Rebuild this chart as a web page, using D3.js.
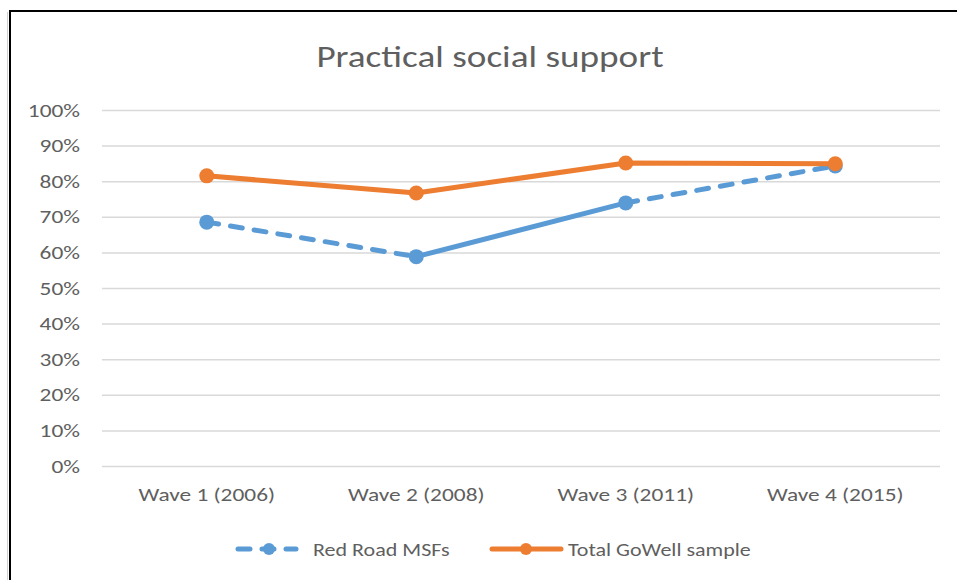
<!DOCTYPE html>
<html lang="en">
<head>
<meta charset="UTF-8">
<title>Practical social support</title>
<style>
  body { margin: 0; background: #fff; }
  svg { display: block; }
  text { font-family: Carlito, Calibri, Lato, sans-serif; fill: #5f5f5f; }
</style>
</head>
<body>
<svg width="957" height="580"></svg>
<script src="https://d3js.org/d3.v7.min.js"></script>
<script>
// data
var waves = ["Wave 1 (2006)", "Wave 2 (2008)", "Wave 3 (2011)", "Wave 4 (2015)"];
var redRoad = [0.685, 0.588, 0.739, 0.843];
var goWell = [0.815, 0.767, 0.851, 0.849];
var yTicks = [0, 0.1, 0.2, 0.3, 0.4, 0.5, 0.6, 0.7, 0.8, 0.9, 1];

var svg = d3.select("svg");
var margin = {top: 110, right: 17, bottom: 114, left: 102};
var width = +svg.attr("width"), height = +svg.attr("height");

// the source picture is a bit wider than it is tall, so text is stretched sideways
function stretch(sel, k) {
    sel.each(function() {
        var t = d3.select(this);
        var tx = +t.attr("x") || 0;
        t.attr("x", 0).attr("transform", "translate(" + tx + ",0) scale(" + k + ",1)");
    });
}

// chart frame
svg.append("line").attr("x1", 7.5).attr("x2", 7.5).attr("y1", 12).attr("y2", height)
    .attr("stroke", "#d0d0d0").attr("stroke-width", 1);
svg.append("rect").attr("x", 10).attr("y", 11).attr("width", 980).attr("height", 600)
    .attr("fill", "none").attr("stroke", "#000").attr("stroke-width", 2);

var x = d3.scaleBand().domain(waves).range([margin.left, width - margin.right]);
var y = d3.scaleLinear().domain([0, 1]).range([height - margin.bottom, margin.top]);

svg.append("text")
    .attr("x", 490).attr("y", 67)
    .attr("text-anchor", "middle")
    .style("font-size", "31px")
    .text("Practical social support")
    .call(stretch, 1.2);

// gridlines + y labels
var yAxis = svg.append("g")
    .attr("transform", "translate(" + margin.left + ",0)")
    .call(d3.axisLeft(y).tickValues(yTicks).tickFormat(d3.format(".0%"))
        .tickSize(-(width - margin.left - margin.right)).tickPadding(22));
yAxis.select(".domain").remove();
yAxis.selectAll(".tick line").attr("stroke", "#d9d9d9").attr("stroke-width", 1.5);
yAxis.selectAll(".tick text").style("font-size", "19px").attr("fill", "#5f5f5f")
    .call(stretch, 1.23);

var xAxis = svg.append("g")
    .attr("transform", "translate(0," + (height - margin.bottom) + ")")
    .call(d3.axisBottom(x).tickSize(0).tickPadding(22));
xAxis.select(".domain").remove();
xAxis.selectAll(".tick text").style("font-size", "19px").attr("fill", "#5f5f5f")
    .call(stretch, 1.23);

function cx(d, i) { return x(waves[i]) + x.bandwidth() / 2; }

// red road: dashed on 1-2 and 3-4, solid 2-3
var redDashed = [true, false, true];
var segs = d3.pairs(redRoad.map(function(v, i) { return [cx(v, i), y(v)]; }));
svg.append("g").selectAll("line").data(segs).enter().append("line")
    .attr("x1", function(d) { return d[0][0]; })
    .attr("y1", function(d) { return d[0][1]; })
    .attr("x2", function(d) { return d[1][0]; })
    .attr("y2", function(d) { return d[1][1]; })
    .attr("stroke", "#5b9bd5").attr("stroke-width", 5).attr("stroke-linecap", "round")
    .attr("stroke-dasharray", function(d, i) { return redDashed[i] ? "12,12" : null; });
svg.append("g").selectAll("circle").data(redRoad).enter().append("circle")
    .attr("cx", cx).attr("cy", function(d) { return y(d); })
    .attr("r", 7.5).attr("fill", "#5b9bd5");

var line = d3.line().x(cx).y(function(d) { return y(d); });
svg.append("path").datum(goWell).attr("d", line)
    .attr("fill", "none").attr("stroke", "#ed7d31").attr("stroke-width", 5)
    .attr("stroke-linejoin", "round");
svg.append("g").selectAll("circle").data(goWell).enter().append("circle")
    .attr("cx", cx).attr("cy", function(d) { return y(d); })
    .attr("r", 7.5).attr("fill", "#ed7d31");

// legend
var legend = svg.append("g").attr("transform", "translate(0,549)");
legend.append("line").attr("x1", 238).attr("x2", 296).attr("y1", 0).attr("y2", 0)
    .attr("stroke", "#5b9bd5").attr("stroke-width", 5).attr("stroke-linecap", "round")
    .attr("stroke-dasharray", "12,12");
legend.append("circle").attr("cx", 269).attr("cy", 0).attr("r", 6).attr("fill", "#5b9bd5");
legend.append("text").attr("x", 313).attr("dy", "0.35em").style("font-size", "19px")
    .text("Red Road MSFs").call(stretch, 1.16);
legend.append("line").attr("x1", 492).attr("x2", 561).attr("y1", 0).attr("y2", 0)
    .attr("stroke", "#ed7d31").attr("stroke-width", 5).attr("stroke-linecap", "round");
legend.append("circle").attr("cx", 526).attr("cy", 0).attr("r", 6).attr("fill", "#ed7d31");
legend.append("text").attr("x", 568).attr("dy", "0.35em").style("font-size", "19px")
    .text("Total GoWell sample").call(stretch, 1.16);
</script>
</body>
</html>
